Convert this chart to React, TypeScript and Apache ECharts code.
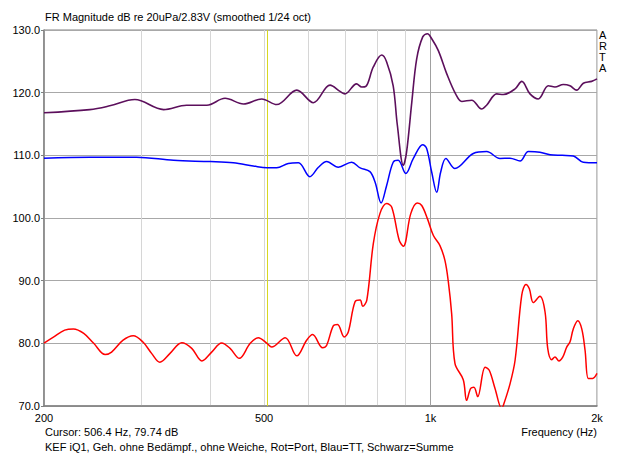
import React, { useEffect, useRef } from "react";
import * as echarts from "echarts";

// Sum (Schwarz=Summe)
const freqSum = [200,242,263,292,329,362,394,425,459,495,527,573,614,658,686,700,735,751,764,788,816,833,856,871,893,905,925,944,968,987,1005,1033,1070,1110,1139,1187,1237,1263,1317,1354,1422,1462,1513,1566,1633,1679,1738,1787,1838,1889,1956,2000];
const dbSum = [116.8,117.3,117.9,118.9,117.3,118.0,118.0,119.1,118.2,119.0,118.1,120.4,118.4,121.2,120.2,119.8,121.4,120.9,121.0,124.1,126.0,124.9,121.1,114.8,108.4,110.5,118.5,125.4,128.9,129.4,128.6,126.7,123.0,119.8,118.6,118.8,117.4,118.0,119.8,119.7,120.6,121.8,119.8,119.0,121.1,120.9,121.3,121.1,120.4,121.5,121.8,122.2];

// Tieftöner (Blau=TT)
const freqTT = [200,242,294,343,400,440,478,506,527,553,577,605,627,649,681,720,746,777,794,814,833,856,874,902,931,968,984,1005,1026,1043,1066,1107,1195,1263,1335,1392,1452,1503,1577,1645,1730,1812,1889,2000];
const dbTT = [109.55,109.7,109.7,109.2,109.0,108.8,108.3,108.0,108.0,108.7,108.8,106.6,108.1,109.0,108.1,108.9,108.0,107.4,105.7,102.4,105.2,108.9,109.2,107.1,109.5,111.7,111.1,107.3,104.1,107.3,109.5,107.9,110.3,110.6,109.5,109.55,109.1,110.6,110.5,110.1,110.0,109.9,108.9,108.8];

// Port (Rot=Port)
const freqPort = [200,208,218,226,236,246,258,265,278,290,302,313,324,338,355,370,386,402,419,434,451,472,488,506,516,546,573,597,612,638,649,667,679,698,710,730,746,754,767,788,810,833,851,878,893,921,946,964,987,1012,1040,1062,1077,1092,1107,1146,1162,1182,1198,1217,1255,1277,1308,1345,1354,1392,1422,1462,1488,1509,1534,1577,1611,1629,1656,1679,1707,1734,1763,1787,1812,1846,1877,1903,1929,1964,2000];
const dbPort = [80.05,81.0,82.1,82.3,81.6,80.0,78.2,78.6,80.5,81.2,80.2,78.4,77.0,78.4,80.1,79.2,77.2,78.6,80.05,79.2,77.6,80.0,80.9,80.0,79.4,80.9,78.0,80.5,81.4,79.3,79.7,82.8,83.0,81.0,81.8,86.6,86.9,85.9,86.9,95.9,100.7,102.3,101.7,96.4,95.5,100.7,102.4,102.0,99.9,97.2,95.6,93.2,89.8,84.7,76.8,74.2,70.9,72.8,73.0,71.5,76.2,75.7,72.8,69.6,70.1,73.5,77.3,87.7,89.4,88.7,86.5,87.5,85.0,79.2,77.4,77.8,77.2,77.8,79.4,80.2,82.3,83.6,82.3,78.9,74.4,74.4,75.2];

const xGridValues = [200, 300, 400, 500, 600, 700, 800, 900, 1000, 2000];
const xLabelValues = [200, 500, 1000, 2000];
const cursorFreq = 506.4;

const titleText = "FR Magnitude dB re 20uPa/2.83V (smoothed 1/24 oct)";
const cursorText = "Cursor: 506.4 Hz, 79.74 dB";
const xAxisName = "Frequency (Hz)";
const noteText = "KEF iQ1, Geh. ohne Bedämpf., ohne Weiche, Rot=Port, Blau=TT, Schwarz=Summe";

const FONT = "Liberation Sans, Arial, sans-serif";

export default function App() {
  const ref = useRef<HTMLDivElement>(null);
  useEffect(() => {
    document.body.style.margin = "0";
    if (!ref.current) return;
    const chart = echarts.init(ref.current, null, { renderer: "svg" });
    const pair = (f: number[], d: number[]) => f.map((v, i) => [v, d[i]]);
    chart.setOption({
      animation: false,
      backgroundColor: "#ffffff",
      grid: {
        left: 44, right: 43, top: 30, bottom: 49,
        show: true, borderColor: "#808080", borderWidth: 1, backgroundColor: "#ffffff",
      },
      xAxis: {
        type: "log",
        logBase: 10,
        min: 200,
        max: 2000,
        axisLine: { show: true, lineStyle: { color: "#808080", width: 1.5 } },
        axisTick: { show: false, customValues: xGridValues },
        splitLine: { show: true, lineStyle: { color: "#d6d6d6", width: 1 } },
        axisLabel: {
          customValues: xLabelValues,
          margin: 6,
          color: "#000",
          fontFamily: FONT,
          fontSize: 11,
          formatter: (v: number) => (v >= 1000 ? v / 1000 + "k" : String(v)),
        },
      },
      yAxis: {
        type: "value",
        min: 70,
        max: 130,
        interval: 10,
        axisLine: { show: true, lineStyle: { color: "#808080", width: 1.5 } },
        axisTick: { show: true, length: 3, lineStyle: { color: "#808080" } },
        splitLine: { show: true, lineStyle: { color: "#a8a8a8", width: 1 } },
        axisLabel: {
          margin: 4,
          color: "#000",
          fontFamily: FONT,
          fontSize: 11,
          formatter: (v: number) => v.toFixed(1),
        },
      },
      series: [
        {
          type: "line",
          name: "Port",
          data: pair(freqPort, dbPort),
          showSymbol: false,
          smooth: 0.35,
          lineStyle: { color: "#ff0000", width: 1.5 },
          z: 3,
          markLine: {
            silent: true,
            symbol: ["none", "none"],
            z: 1,
            label: { show: false },
            data: [
              { xAxis: 1000, lineStyle: { color: "#a0a0a0", width: 1, type: "solid" } },
              { xAxis: cursorFreq, lineStyle: { color: "#d8d820", width: 1, type: "solid" } },
            ],
          },
        },
        {
          type: "line",
          name: "TT",
          data: pair(freqTT, dbTT),
          showSymbol: false,
          smooth: 0.35,
          lineStyle: { color: "#0000ff", width: 1.5 },
          z: 3,
        },
        {
          type: "line",
          name: "Summe",
          data: pair(freqSum, dbSum),
          showSymbol: false,
          smooth: 0.35,
          lineStyle: { color: "#5c0f5c", width: 1.6 },
          z: 3,
        },
      ],
      graphic: [
        { type: "text", left: 45, top: 11, style: { text: titleText, font: `11px ${FONT}`, fill: "#000" } },
        { type: "text", left: 599, top: 29, style: { text: "A\nR\nT\nA", font: `11px ${FONT}`, fill: "#000", lineHeight: 11 } },
        { type: "text", left: 45, top: 426, style: { text: cursorText, font: `11px ${FONT}`, fill: "#000" } },
        { type: "text", right: 43, top: 426, style: { text: xAxisName, font: `11px ${FONT}`, fill: "#000" } },
        { type: "text", left: 45, top: 441, style: { text: noteText, font: `11px ${FONT}`, fill: "#000" } },
      ],
    });
    return () => chart.dispose();
  }, []);
  return <div ref={ref} style={{ width: 640, height: 455 }} />;
}
